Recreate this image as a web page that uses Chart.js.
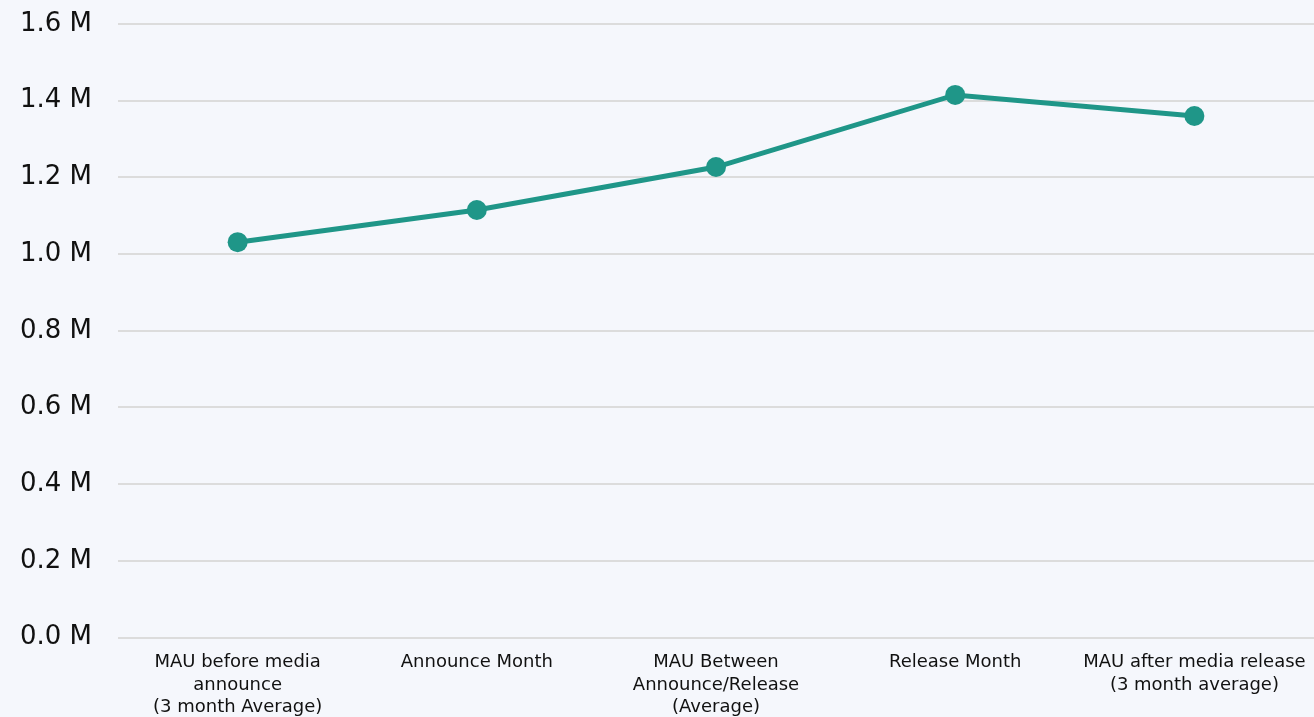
<!DOCTYPE html>
<html>
<head>
<meta charset="utf-8">
<script src="https://cdn.jsdelivr.net/npm/chart.js@4/dist/chart.umd.min.js"></script>
<style>
  html, body { margin: 0; padding: 0; background: #f5f7fc; }
  #wrap { width: 1314px; height: 717px; }
</style>
</head>
<body>
<div id="wrap"><canvas id="mau_chart"></canvas></div>
<script>
var categories = [
  ['MAU before media', 'announce', '(3 month Average)'],
  'Announce Month',
  ['MAU Between', 'Announce/Release', '(Average)'],
  'Release Month',
  ['MAU after media release', '(3 month average)']
];
var mau_values = [1031000, 1115000, 1227000, 1415000, 1360000];
var y_max = 1600000;
var y_step = 200000;

var line_color = '#1f9688';

const config = {
  type: 'line',
  data: {
    labels: categories,
    datasets: [{
      data: mau_values,
      borderColor: line_color,
      backgroundColor: line_color,
      borderWidth: 5,
      pointRadius: 10,
      pointHoverRadius: 10,
      pointBorderWidth: 0,
      tension: 0
    }]
  },
  options: {
    responsive: true,
    maintainAspectRatio: false,
    animation: false,
    layout: { autoPadding: false, padding: { top: 24, right: 0, left: -6, bottom: 0 } },
    plugins: {
      legend: { display: false },
      tooltip: { enabled: false }
    },
    scales: {
      x: {
        offset: true,
        grid: { display: false, drawTicks: false },
        border: { display: false },
        afterFit: function(scale) {
          // let the plot run to the right edge like the original,
          // bottom labels may run off the canvas a little
          scale.paddingLeft = 0;
          scale.paddingRight = 0;
          scale.height -= 16;
        },
        ticks: {
          color: '#111',
          padding: 14,
          maxRotation: 0,
          autoSkip: false,
          font: { family: 'DejaVu Sans', size: 18, lineHeight: 1.25 }
        }
      },
      y: {
        min: 0,
        max: y_max,
        grid: { color: '#dcdcdc', lineWidth: 2, drawTicks: false },
        border: { display: false },
        afterFit: function(scale) {
          scale.paddingTop = 0;
          scale.paddingBottom = 0;
        },
        ticks: {
          stepSize: y_step,
          color: '#111',
          padding: 26,
          font: { family: 'DejaVu Sans', size: 26 },
          callback: function(v) { return (v / 1000000).toFixed(1) + ' M'; }
        }
      }
    }
  }
};

new Chart(document.getElementById('mau_chart'), config);
</script>
</body>
</html>
